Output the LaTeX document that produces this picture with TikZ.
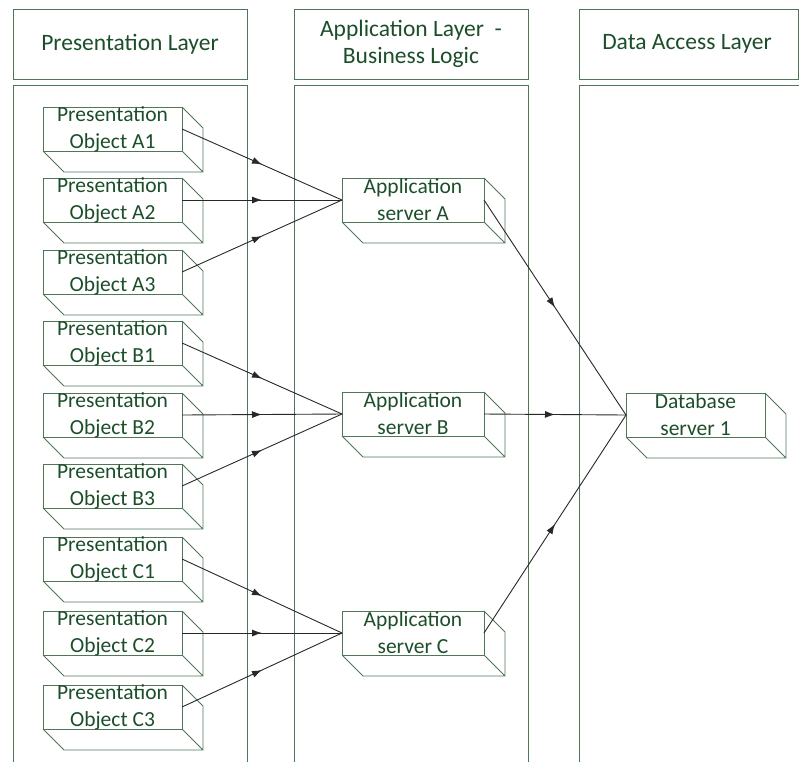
\documentclass[tikz,border=0pt]{standalone}
\usepackage{fontspec}
\setmainfont{Carlito}
\usetikzlibrary{arrows.meta,decorations.markings}

\definecolor{boxline}{RGB}{80,118,88}
\definecolor{boxtext}{RGB}{28,78,42}
\definecolor{connline}{RGB}{40,40,40}

\tikzset{
	lane/.style={draw=boxline, line width=0.9pt},
	lanetitle/.style={font=\fontsize{23.5}{27}\selectfont, text=boxtext, align=center},
	obj/.style={draw=boxline, line width=0.9pt, outer sep=0pt, inner sep=0pt,
		minimum width=139pt, minimum height=44pt},
	objtext/.style={font=\fontsize{21.5}{27}\selectfont, text=boxtext, align=center, inner sep=0pt},
	conn/.style={draw=connline, line width=0.9pt,
		decoration={markings, mark=at position 0.5 with {\arrow{Latex[length=10pt,width=7pt]}}},
		postaction={decorate}},
}

% back part of a box: the side and bottom faces
\newcommand{\boxdepth}[1]{%
	\draw[boxline, line width=0.9pt] (#1.north east) -- ++(21,21) |- ([shift={(21,21)}]#1.south west) -- (#1.south west)
		(#1.south east) -- ++(21,21);}

\begin{document}
\begin{tikzpicture}[x=1pt, y=-1pt]
	\useasboundingbox (0,0) rectangle (799,761);
	
	% lanes with their headers
	\draw[lane] (13,9) rectangle (247,79);
	\draw[lane] (13,85) rectangle (247,775);
	\draw[lane] (294,9) rectangle (528,79);
	\draw[lane] (294,85) rectangle (528,775);
	\draw[lane] (579,9) rectangle (798,79);
	\draw[lane] (579,85) rectangle (801,775);
	\node[lanetitle] (hdpres) at (130,44) {Presentation Layer};
	\node[lanetitle] (hdapp) at (411,44) {Application Layer\ \ -\\Business Logic};
	\node[lanetitle] (hddata) at (687,44) {Data Access Layer};
	
	% presentation objects
	\foreach \g/\r/\y in {A/1/107, A/2/178, A/3/250, B/1/321, B/2/393, B/3/464, C/1/537, C/2/611, C/3/685} {
		\node[obj, label={[objtext]center:Presentation\\Object \g\r}] (po\g\r) at (112.5,\y+22) {};
		\boxdepth{po\g\r}
	}
	
	% application servers
	\foreach \g/\y in {A/178, B/392, C/611} {
		\node[obj, minimum width=142pt, label={[objtext]center:Application\\server \g}] (as\g) at (413,\y+22) {};
		\boxdepth{as\g}
	}
	
	% database
	\node[obj, label={[objtext]center:Database\\server 1}] (db1) at (695.5,415) {};
	\boxdepth{db1}
	
	% connections
	\foreach \g in {A,B,C} {
		\foreach \r in {1,2,3}
			\draw[conn] (po\g\r.east) -- (as\g.west);
		\draw[conn] (as\g.east) -- (db1.west);
	}
\end{tikzpicture}
\end{document}
